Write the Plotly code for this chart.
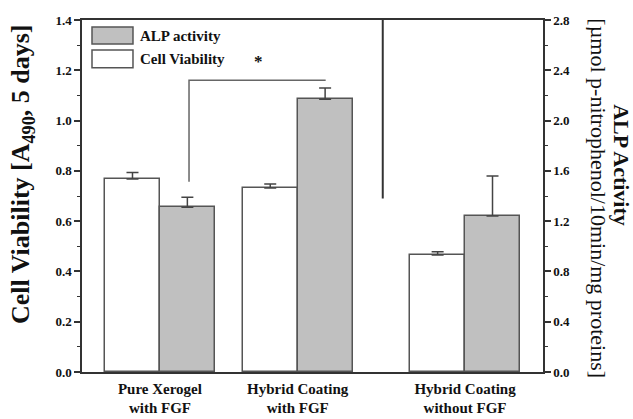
import plotly.graph_objects as go

# ---- data ----
groups = ["Pure Xerogel<br>with FGF", "Hybrid Coating<br>with FGF", "Hybrid Coating<br>without FGF"]
group_pos = [1.42, 3.93, 6.98]
cell_viability = [0.768, 0.732, 0.465]
cell_viability_err = [0.025, 0.016, 0.013]
alp_activity = [1.31, 2.17, 1.24]
alp_activity_err = [0.08, 0.09, 0.32]

FONT = "Liberation Serif"
EDGE = "#555555"

fig = go.Figure()
fig.add_trace(go.Bar(
    x=group_pos, y=cell_viability, name="Cell Viability",
    width=1.0, offset=-1.0,
    marker=dict(color="white", line=dict(color=EDGE, width=1.5)),
    error_y=dict(type="data", symmetric=False, array=cell_viability_err,
                 arrayminus=[0] * 3, color="#444", thickness=1.5, width=6),
    yaxis="y", showlegend=False,
))
fig.add_trace(go.Bar(
    x=group_pos, y=alp_activity, name="ALP activity",
    width=1.0, offset=0.0,
    marker=dict(color="#c0c0c0", line=dict(color=EDGE, width=1.5)),
    error_y=dict(type="data", symmetric=False, array=alp_activity_err,
                 arrayminus=[0] * 3, color="#444", thickness=1.5, width=6),
    yaxis="y2", showlegend=False,
))

# separator line
fig.add_shape(type="line", xref="x", yref="y", x0=5.48, x1=5.48, y0=0.69, y1=1.4,
              line=dict(color="#333", width=2))
# significance bracket
fig.add_shape(type="path", xref="x", yref="y",
              path="M 1.95 0.757 L 1.95 1.16 L 4.44 1.16",
              line=dict(color="#666", width=1.5))
fig.add_annotation(x=3.21, y=1.235, xref="x", yref="y", text="<b>*</b>",
                   showarrow=False, font=dict(family=FONT, size=17, color="#111"))

# manual legend
fig.add_shape(type="rect", xref="paper", yref="paper", x0=0.0217, x1=0.1106, y0=0.932, y1=0.980,
              fillcolor="#c0c0c0", line=dict(color=EDGE, width=1.5))
fig.add_shape(type="rect", xref="paper", yref="paper", x0=0.0217, x1=0.1106, y0=0.864, y1=0.915,
              fillcolor="white", line=dict(color=EDGE, width=1.5))
fig.add_annotation(x=0.1215, y=0.9545, xref="paper", yref="paper", text="<b>ALP activity</b>",
                   showarrow=False, xanchor="left", yanchor="middle",
                   font=dict(family=FONT, size=15, color="#111"))
fig.add_annotation(x=0.1215, y=0.889, xref="paper", yref="paper", text="<b>Cell Viability</b>",
                   showarrow=False, xanchor="left", yanchor="middle",
                   font=dict(family=FONT, size=15, color="#111"))

# axis titles
fig.add_annotation(x=-0.130, y=0.5625, xref="paper", yref="paper",
                   text="<b>Cell Viability [A<sub>490</sub>, 5 days]</b>",
                   textangle=-90, showarrow=False, xanchor="center", yanchor="middle",
                   font=dict(family=FONT, size=26, color="#111"))
fig.add_annotation(x=1.171, y=0.588, xref="paper", yref="paper",
                   text="<b>ALP Activity</b>",
                   textangle=90, showarrow=False, xanchor="center", yanchor="middle",
                   font=dict(family=FONT, size=22, color="#111"))
fig.add_annotation(x=1.121, y=0.494, xref="paper", yref="paper",
                   text="[µmol p-nitrophenol/10min/mg proteins]",
                   textangle=90, showarrow=False, xanchor="center", yanchor="middle",
                   font=dict(family=FONT, size=22, color="#111"))

fig.update_layout(
    width=633, height=419,
    margin=dict(l=82, r=90, t=20, b=47, autoexpand=False),
    plot_bgcolor="white", paper_bgcolor="white",
    bargap=0,
    xaxis=dict(range=[0, 8.4], tickvals=group_pos,
               ticktext=["<b>" + g.replace("<br>", "</b><br><b>") + "</b>" for g in groups],
               showline=True, linecolor="#333", linewidth=1.5, mirror=True,
               ticks="", showgrid=False, zeroline=False, automargin=False,
               ticklabelstandoff=2,
               tickfont=dict(family=FONT, size=15, color="#111")),
    yaxis=dict(range=[0, 1.4], dtick=0.2, tickformat=".1f",
               showline=True, linecolor="#333", linewidth=1.5, automargin=False,
               ticks="outside", ticklen=6, tickwidth=1.5, tickcolor="#333",
               minor=dict(dtick=0.1, ticks="outside", ticklen=3, tickcolor="#333", tickwidth=1),
               showgrid=False, zeroline=False,
               tickfont=dict(family=FONT, size=13, color="#111", weight="bold")),
    yaxis2=dict(range=[0, 2.8], dtick=0.4, tickformat=".1f", overlaying="y", side="right",
                showline=True, linecolor="#333", linewidth=1.5, automargin=False,
                ticks="outside", ticklen=6, tickwidth=1.5, tickcolor="#333",
                minor=dict(dtick=0.2, ticks="outside", ticklen=3, tickcolor="#333", tickwidth=1),
                showgrid=False, zeroline=False,
                tickfont=dict(family=FONT, size=13, color="#111", weight="bold")),
)

fig.write_html("out.html", config={"displayModeBar": False},
               post_script="document.body.style.margin='0';document.body.style.padding='0';")
